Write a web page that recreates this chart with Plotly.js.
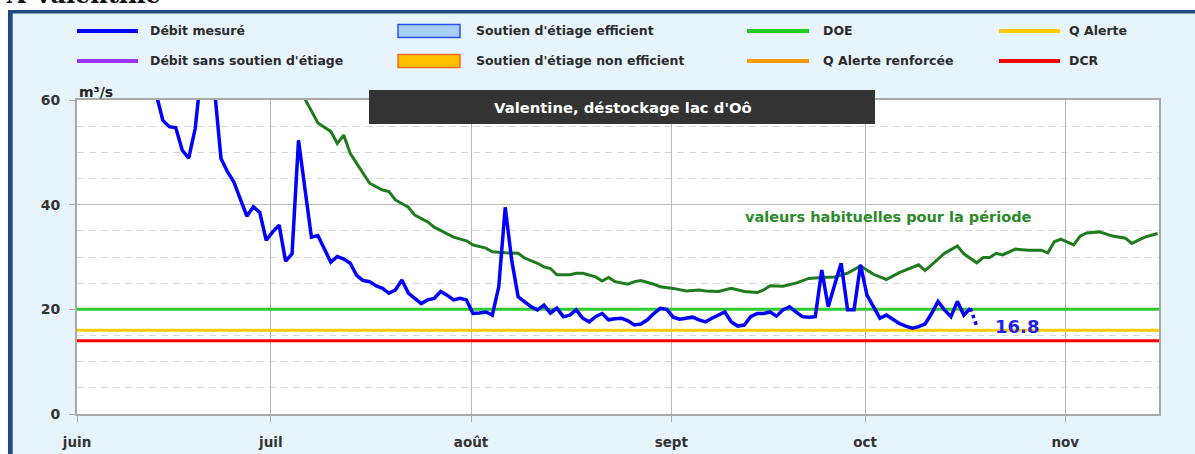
<!DOCTYPE html>
<html><head><meta charset="utf-8">
<script src="https://cdn.plot.ly/plotly-3.0.1.min.js"></script>
<style>html,body{margin:0;padding:0;background:#fff;}#chart{width:1195px;height:454px;}</style>
</head><body><div id="chart"></div>
<script>
// ---------- data ----------
const monthTicks = ['2024-06-01','2024-07-01','2024-08-01','2024-09-01','2024-10-01','2024-11-01'];
const monthLabels = ['juin','juil','août','sept','oct','nov'];
const yTicks = [0, 20, 40, 60];
const xRange = ['2024-06-01', '2024-11-15 12:00'];

const debitStart = '2024-06-13';
const debitMesure = [61, 56.1, 54.9, 54.7, 50.4, 48.9, 54.5, 66, 70, 62,
  48.8, 46.3, 44.3, 41.1, 37.8, 39.6, 38.5, 33.2, 34.8, 36.1,
  29.2, 30.6, 52.3, 43, 33.8, 34.1, 31.5, 29.0, 30.1, 29.6,
  28.8, 26.5, 25.5, 25.3, 24.5, 24.0, 23.1, 23.7, 25.6, 23.1,
  22.1, 21.1, 21.8, 22.1, 23.4, 22.7, 21.8, 22.1, 21.8, 19.2,
  19.3, 19.5, 18.9, 24.3, 39.5, 29.4, 22.4, 21.5, 20.5, 19.9,
  20.8, 19.3, 20.2, 18.6, 18.9, 19.9, 18.3, 17.6, 18.6, 19.2,
  18.0, 18.2, 18.3, 17.8, 17.0, 17.2, 18.0, 19.2, 20.2, 20.0,
  18.5, 18.1, 18.3, 18.5, 18.0, 17.6, 18.3, 18.9, 19.5, 17.6,
  16.8, 17.0, 18.6, 19.2, 19.2, 19.5, 18.7, 19.9, 20.5, 19.5,
  18.6, 18.5, 18.6, 27.5, 20.5, 24.7, 28.8, 19.9, 19.9, 28.5,
  22.7, 20.5, 18.3, 18.9, 18.0, 17.3, 16.8, 16.4, 16.7, 17.2,
  19.2, 21.5, 19.9, 18.6, 21.5, 18.9, 20.2];
const derniereValeur = 16.8;

const habDates = ['2024-07-05','2024-07-08','2024-07-10','2024-07-11','2024-07-12','2024-07-13','2024-07-14','2024-07-15','2024-07-16','2024-07-18',
  '2024-07-19','2024-07-20','2024-07-22','2024-07-23','2024-07-25','2024-07-26','2024-07-28','2024-07-29','2024-07-31','2024-08-01',
  '2024-08-03','2024-08-04','2024-08-06','2024-08-08','2024-08-09','2024-08-11','2024-08-12','2024-08-13','2024-08-14','2024-08-16',
  '2024-08-17','2024-08-18','2024-08-20','2024-08-21','2024-08-22','2024-08-23','2024-08-25','2024-08-26','2024-08-27','2024-08-29',
  '2024-08-30','2024-09-01','2024-09-03','2024-09-05','2024-09-06','2024-09-08','2024-09-10','2024-09-12','2024-09-14','2024-09-15',
  '2024-09-16','2024-09-17','2024-09-18','2024-09-20','2024-09-22','2024-09-24','2024-09-26','2024-09-28','2024-09-30','2024-10-02',
  '2024-10-04','2024-10-06','2024-10-07','2024-10-09','2024-10-10','2024-10-12','2024-10-13','2024-10-15','2024-10-16','2024-10-18',
  '2024-10-19','2024-10-20','2024-10-21','2024-10-22','2024-10-24','2024-10-26','2024-10-28','2024-10-29','2024-10-30','2024-10-31',
  '2024-11-02','2024-11-03','2024-11-04','2024-11-06','2024-11-08','2024-11-10','2024-11-11','2024-11-13','2024-11-15'];
const habValues = [62.5, 55.6, 54.0, 51.7, 53.3, 49.8, 47.9, 46.0, 44.1, 42.8,
  42.5, 40.9, 39.5, 38.0, 36.7, 35.7, 34.5, 33.8, 33.1, 32.3,
  31.7, 31.0, 30.8, 30.7, 29.8, 28.8, 28.1, 27.8, 26.6, 26.6,
  26.9, 26.9, 26.2, 25.4, 26.1, 25.3, 24.8, 25.3, 25.5, 24.8,
  24.3, 24.0, 23.5, 23.7, 23.5, 23.4, 24.0, 23.4, 23.2, 23.7,
  24.5, 24.5, 24.4, 25.0, 25.9, 26.1, 26.2, 26.9, 28.3, 26.7,
  25.7, 27.0, 27.5, 28.5, 27.4, 29.6, 30.7, 32.1, 30.6, 28.9,
  29.9, 29.9, 30.7, 30.4, 31.5, 31.3, 31.3, 30.8, 32.9, 33.4,
  32.3, 34.0, 34.6, 34.8, 34.0, 33.6, 32.6, 33.8, 34.5];

const seuilDOE = 20, seuilAlerte = 16, seuilDCR = 14;

const legendRow1 = ['Débit mesuré', "Soutien d'étiage efficient", 'DOE', 'Q Alerte'];
const legendRow2 = ["Débit sans soutien d'étiage", "Soutien d'étiage non efficient", 'Q Alerte renforcée', 'DCR'];
const chartTitle = "Valentine, déstockage lac d'Oô";
const habLabel = 'valeurs habituelles pour la période';
const sectionTitle = 'A Valentine';
const unitLabel = 'm\u00b3/s';

// ---------- helpers ----------
const W = 1195, H = 454, L = 77, R = 1159, T = 100, B = 414;
const px = x => (x - L) / (R - L);
const py = y => (B - y) / (B - T);
function dayStr(start, n, time) {
  const d = new Date(start + 'T00:00:00Z');
  d.setUTCDate(d.getUTCDate() + n);
  return d.toISOString().slice(0, 10) + (time ? ' ' + time : '');
}
const OFFSET = '07:00';
const debitDates = debitMesure.map((_, i) => dayStr(debitStart, i, OFFSET));
const habX = habDates.map(d => d + ' ' + OFFSET);
const lastIdx = debitMesure.length - 1;
const provDates = [debitDates[lastIdx], dayStr(debitStart, lastIdx + 1, OFFSET)];
const provValues = [debitMesure[lastIdx], derniereValeur];

const FONT = 'DejaVu Sans, Verdana, sans-serif';

const traces = [
  {x: xRange, y: [seuilDCR, seuilDCR], mode: 'lines', line: {color: '#ff0000', width: 3}, name: 'DCR'},
  {x: xRange, y: [seuilAlerte, seuilAlerte], mode: 'lines', line: {color: '#ffcc00', width: 3}, name: 'Q Alerte'},
  {x: xRange, y: [seuilDOE, seuilDOE], mode: 'lines', line: {color: '#2ecc2e', width: 3}, name: 'DOE'},
  {x: habX, y: habValues, mode: 'lines', line: {color: '#1e7b1e', width: 3}, name: habLabel},
  {x: debitDates, y: debitMesure, mode: 'lines', line: {color: '#0000ff', width: 3.5}, name: 'Débit mesuré'},
  {x: provDates, y: provValues, mode: 'lines', line: {color: '#0000ff', width: 3.5, dash: 'dot'}, name: 'provisoire'}
];

const shapes = [];
const annotations = [];
// frame
shapes.push({type: 'rect', xref: 'paper', yref: 'paper', x0: px(-5), x1: px(W + 5), y0: py(-5), y1: py(10), fillcolor: '#ffffff', line: {width: 0}, layer: 'below'});
shapes.push({type: 'rect', xref: 'paper', yref: 'paper', x0: px(-5), x1: px(8), y0: py(-5), y1: py(H + 5), fillcolor: '#ffffff', line: {width: 0}, layer: 'below'});
shapes.push({type: 'rect', xref: 'paper', yref: 'paper', x0: px(8), x1: px(W + 5), y0: py(10), y1: py(13.5), fillcolor: '#1f4b7e', line: {width: 0}, layer: 'below'});
shapes.push({type: 'rect', xref: 'paper', yref: 'paper', x0: px(8), x1: px(12.7), y0: py(10), y1: py(H + 5), fillcolor: '#1f4b7e', line: {width: 0}, layer: 'below'});

// legend
const legRowY = [31, 61];
const colSym = [[77, 138], [398, 460], [747, 809], [999, 1060]];
const colText = [148, 474, 821, 1067];
const lineColors = [['#0000ff', null, '#22cc22', '#ffcc00'], ['#9933ff', null, '#ff9900', '#ff0000']];
const rectFill = ['#a6cff7', '#ffc000'];
const rectLine = ['#2f4cff', '#ff6a2a'];
[legendRow1, legendRow2].forEach((row, r) => {
  const y = legRowY[r];
  row.forEach((label, c) => {
    if (c === 1) {
      shapes.push({type: 'rect', xref: 'paper', yref: 'paper', x0: px(colSym[c][0]), x1: px(colSym[c][1]), y0: py(y + 6.5), y1: py(y - 6.5), fillcolor: rectFill[r], line: {color: rectLine[r], width: 1.5}, layer: 'above'});
    } else {
      shapes.push({type: 'line', xref: 'paper', yref: 'paper', x0: px(colSym[c][0]), x1: px(colSym[c][1]), y0: py(y), y1: py(y), line: {color: lineColors[r][c], width: 4}, layer: 'above'});
    }
    annotations.push({xref: 'paper', yref: 'paper', x: px(colText[c]), y: py(y), xanchor: 'left', yanchor: 'middle', showarrow: false, text: label, font: {family: FONT, size: 12.5, color: '#2b2b2b', weight: 'bold'}});
  });
});

// title box
shapes.push({type: 'rect', xref: 'paper', yref: 'paper', x0: px(369), x1: px(875), y0: py(124), y1: py(90), fillcolor: '#333333', line: {width: 0}, layer: 'above'});
annotations.push({xref: 'paper', yref: 'paper', x: px(623), y: py(107), xanchor: 'center', yanchor: 'middle', showarrow: false, text: chartTitle, font: {family: FONT, size: 14.8, color: '#ffffff', weight: 'bold'}});
// habitual label
annotations.push({xref: 'paper', yref: 'paper', x: px(888), y: py(217), xanchor: 'center', yanchor: 'middle', showarrow: false, text: habLabel, font: {family: FONT, size: 14.5, color: '#2a8a2a', weight: 'bold'}});
// last value
annotations.push({xref: 'paper', yref: 'y', x: px(993), y: derniereValeur, xanchor: 'left', yanchor: 'middle', showarrow: false, text: String(derniereValeur), font: {family: FONT, size: 18, color: '#2020ee', weight: 'bold'}});
// unit
annotations.push({xref: 'paper', yref: 'paper', x: px(77), y: py(92), xanchor: 'left', yanchor: 'middle', showarrow: false, text: unitLabel, font: {family: FONT, size: 14, color: '#222', weight: 'bold'}});
// cut section title
annotations.push({xref: 'paper', yref: 'paper', x: px(4), y: py(-6), xanchor: 'left', yanchor: 'middle', showarrow: false, text: sectionTitle, font: {family: 'DejaVu Serif, serif', size: 24, color: '#111', weight: 'bold'}});

const layout = {
  width: W, height: H,
  margin: {l: L, r: W - R, t: T, b: H - B, pad: 0},
  paper_bgcolor: '#e8f4fc',
  plot_bgcolor: '#ffffff',
  showlegend: false,
  xaxis: {
    type: 'date', range: xRange, tickmode: 'array', tickvals: monthTicks, ticktext: monthLabels,
    showgrid: true, gridcolor: '#b9b9b9', gridwidth: 1,
    ticks: 'outside', ticklen: 6, tickcolor: '#aaaaaa', tickwidth: 1,
    showline: true, linecolor: '#a8a8a8', linewidth: 2, mirror: true, zeroline: false,
    ticklabelstandoff: 9,
    tickfont: {family: FONT, size: 13.5, color: '#333', weight: 'bold'}
  },
  yaxis: {
    range: [0, 60], tickmode: 'array', tickvals: yTicks,
    showgrid: true, gridcolor: '#b9b9b9', gridwidth: 1,
    minor: {dtick: 5, tick0: 0, showgrid: true, gridcolor: '#d9d9d9', griddash: '7px,5px', ticks: ''},
    ticks: 'outside', ticklen: 6, tickcolor: '#aaaaaa', tickwidth: 1,
    showline: true, linecolor: '#a8a8a8', linewidth: 2, mirror: true, zeroline: false,
    ticklabelstandoff: 6,
    tickfont: {family: FONT, size: 14, color: '#333', weight: 'bold'}
  },
  shapes: shapes,
  annotations: annotations
};

Plotly.newPlot('chart', traces, layout, {staticPlot: true, displayModeBar: false});
</script>
</body></html>
